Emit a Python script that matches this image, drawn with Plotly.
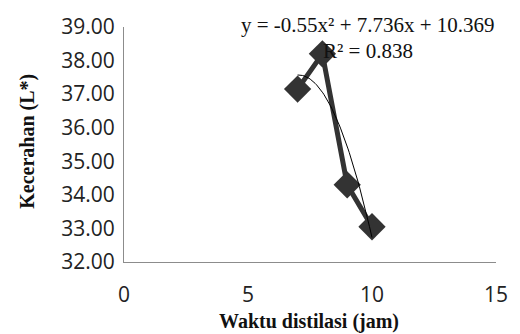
import plotly.graph_objects as go
import numpy as np

# Data
waktu = [7, 8, 9, 10]
kecerahan = [37.15, 38.2, 34.3, 33.05]
poly_coef = [-0.55, 7.736, 10.369]  # trendline y = a x^2 + b x + c
x_ticks = [0, 5, 10, 15]
y_ticks = [32, 33, 34, 35, 36, 37, 38, 39]

xt = np.linspace(min(waktu), max(waktu), 60)
yt = np.polyval(poly_coef, xt)

fig = go.Figure()
fig.add_trace(go.Scatter(x=waktu, y=kecerahan, mode="lines+markers",
                         line=dict(color="#333333", width=5),
                         marker=dict(symbol="diamond", size=21, color="#333333"),
                         showlegend=False))
fig.add_trace(go.Scatter(x=xt, y=yt, mode="lines",
                         line=dict(color="#000000", width=1),
                         showlegend=False))

fig.update_layout(
    width=520, height=334,
    margin=dict(l=124, r=13, t=20, b=72),
    plot_bgcolor="white", paper_bgcolor="white",
    annotations=[
        dict(x=0.31, xref="paper", y=1.008, yref="paper", text="y = -0.55x² + 7.736x + 10.369",
             showarrow=False, xanchor="left", yanchor="middle",
             font=dict(family="Liberation Serif", size=21, color="#111")),
        dict(x=0.655, xref="paper", y=0.897, yref="paper", text="R² = 0.838",
             showarrow=False, xanchor="center", yanchor="middle",
             font=dict(family="Liberation Serif", size=21, color="#111")),
        dict(x=-0.258, xref="paper", y=0.512, yref="paper", text="<b>Kecerahan (L*)</b>",
             showarrow=False, xanchor="center", yanchor="middle", textangle=-90,
             font=dict(family="Liberation Serif", size=20, color="#111")),
        dict(x=0.496, xref="paper", y=-0.252, yref="paper", text="<b>Waktu distilasi (jam)</b>",
             showarrow=False, xanchor="center", yanchor="middle",
             font=dict(family="Liberation Serif", size=20, color="#111")),
    ],
)

fig.update_xaxes(range=[0, 15], tickvals=x_ticks, showgrid=False, zeroline=False,
                 showline=True, linecolor="#8c8c8c", linewidth=1, ticks="",
                 ticklabelstandoff=14,
                 tickfont=dict(family="Open Sans", size=21, color="#222"))
fig.update_yaxes(range=[32, 39], tickvals=y_ticks, tickformat=".2f", showgrid=False,
                 zeroline=False, showline=True, linecolor="#8c8c8c", linewidth=1, ticks="",
                 ticklabelstandoff=4,
                 tickfont=dict(family="Open Sans", size=21, color="#222"))

fig.write_html("out.html")
